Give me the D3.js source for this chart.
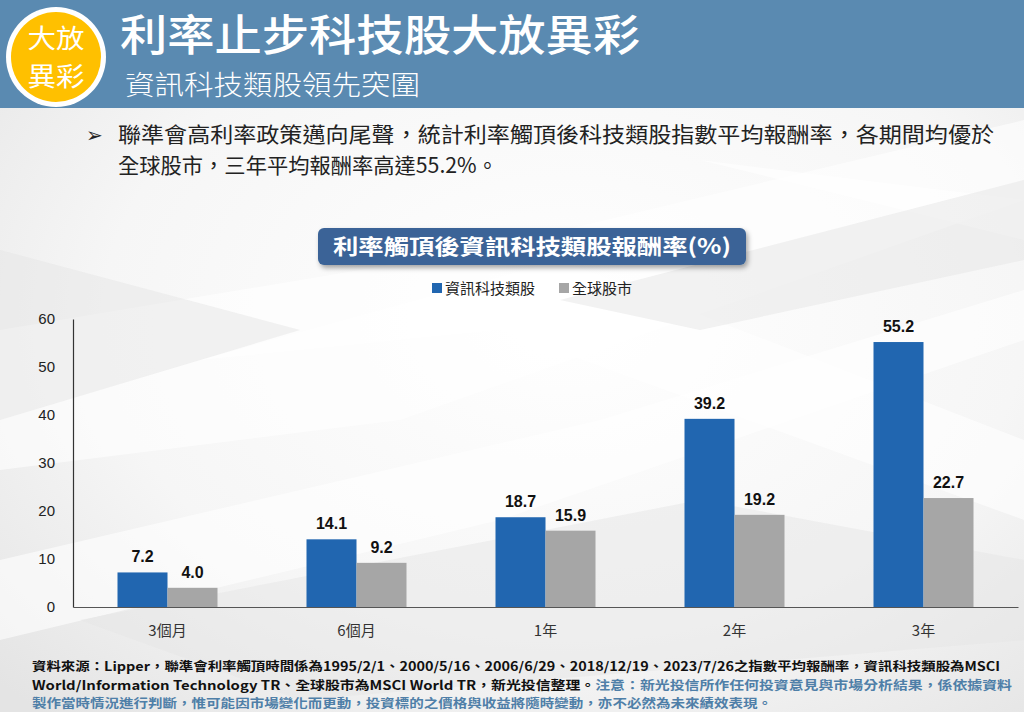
<!DOCTYPE html>
<html><head><meta charset="utf-8">
<script src="https://cdn.jsdelivr.net/npm/d3@7"></script>
<style>
html,body{margin:0;padding:0;background:#fff;}
svg{display:block;}
</style></head>
<body>
<svg id="c" width="1024" height="712"></svg>
<script>
const categories = ["3個月","6個月","1年","2年","3年"];
const seriesNames = ["資訊科技類股","全球股市"];
const itValues = [7.2, 14.1, 18.7, 39.2, 55.2];
const globalValues = [4.0, 9.2, 15.9, 19.2, 22.7];
const yTicks = [0,10,20,30,40,50,60];
const colors = ["#2166b0","#a6a6a6"];

const CJK = "'Noto Sans CJK TC','Noto Sans CJK SC',sans-serif";
const LAT = "'Liberation Sans',Arial,sans-serif";
const svg = d3.select("#c");
const defs = svg.append("defs");

// background
const bg = defs.append("radialGradient").attr("id","bg").attr("cx","55%").attr("cy","45%").attr("r","75%");
bg.append("stop").attr("offset","0%").attr("stop-color","#ffffff");
bg.append("stop").attr("offset","60%").attr("stop-color","#f6f6f6");
bg.append("stop").attr("offset","100%").attr("stop-color","#e4e4e4");
svg.append("rect").attr("width",1024).attr("height",712).attr("fill","url(#bg)");
const shapes = [
  [[0,330],[480,250],[1024,120],[1024,200],[400,420],[0,470]],
  [[200,360],[560,260],[1024,440],[1024,520],[500,330]],
  [[0,560],[600,420],[1024,290],[1024,340],[500,520],[0,640]],
  [[700,160],[1024,240],[1024,200]]
];
svg.append("g").selectAll("path").data(shapes).join("path")
  .attr("d",d=>"M"+d.join("L")+"Z").attr("fill","#ffffff").attr("opacity",0.6);
const shapes2 = [
  [[0,250],[300,330],[0,420]],
  [[80,620],[700,500],[1024,560],[1024,640],[300,700]],
  [[560,300],[1024,180],[1024,260],[700,330]]
];
svg.append("g").selectAll("path").data(shapes2).join("path")
  .attr("d",d=>"M"+d.join("L")+"Z").attr("fill","#e6e6e6").attr("opacity",0.5);

// header
svg.append("rect").attr("x",0).attr("y",0).attr("width",1024).attr("height",108).attr("fill","#5a8ab1");
svg.append("circle").attr("cx",56).attr("cy",57).attr("r",50).attr("fill","#ffffff");
svg.append("circle").attr("cx",56).attr("cy",57).attr("r",45).attr("fill","#ffc000");
svg.append("text").attr("x",56).attr("y",48).attr("text-anchor","middle").attr("fill","#fff")
  .attr("font-family",CJK).attr("font-size",26).attr("textLength",57).attr("lengthAdjust","spacingAndGlyphs").text("大放");
svg.append("text").attr("x",56).attr("y",86).attr("text-anchor","middle").attr("fill","#fff")
  .attr("font-family",CJK).attr("font-size",26).attr("textLength",57).attr("lengthAdjust","spacingAndGlyphs").text("異彩");
svg.append("text").attr("x",120).attr("y",51).attr("fill","#fff").attr("font-family",CJK)
  .attr("font-size",43).attr("font-weight",500).attr("textLength",520).attr("lengthAdjust","spacingAndGlyphs")
  .text("利率止步科技股大放異彩");
svg.append("text").attr("x",125).attr("y",95).attr("fill","#fff").attr("font-family",CJK)
  .attr("font-size",27).attr("font-weight",300).attr("textLength",295).attr("lengthAdjust","spacingAndGlyphs")
  .text("資訊科技類股領先突圍");

// bullet text
svg.append("text").attr("x",86).attr("y",142).attr("fill","#222").attr("font-family","'DejaVu Sans',sans-serif")
  .attr("font-size",20).text("➢");
svg.append("text").attr("x",118).attr("y",142).attr("fill","#222").attr("font-family",CJK)
  .attr("font-size",21).attr("textLength",876).attr("lengthAdjust","spacingAndGlyphs")
  .text("聯準會高利率政策邁向尾聲，統計利率觸頂後科技類股指數平均報酬率，各期間均優於");
svg.append("text").attr("x",118).attr("y",173).attr("fill","#222").attr("font-family",CJK)
  .attr("font-size",21).attr("textLength",380).attr("lengthAdjust","spacingAndGlyphs")
  .text("全球股市，三年平均報酬率高達55.2%。");

// chart title box
const sh = defs.append("filter").attr("id","sh").attr("x","-10%").attr("y","-30%").attr("width","120%").attr("height","170%");
sh.append("feDropShadow").attr("dx",2).attr("dy",3).attr("stdDeviation",2.5).attr("flood-color","#000").attr("flood-opacity",0.35);
svg.append("rect").attr("x",318).attr("y",228).attr("width",428).attr("height",37).attr("rx",6)
  .attr("fill","#3a6497").attr("filter","url(#sh)");
svg.append("text").attr("x",532).attr("y",254).attr("text-anchor","middle").attr("fill","#fff")
  .attr("font-family",CJK).attr("font-size",21).attr("font-weight",700)
  .attr("textLength",398).attr("lengthAdjust","spacingAndGlyphs")
  .text("利率觸頂後資訊科技類股報酬率(%)");

// legend
const legX = [432, 559];
seriesNames.forEach((n,i)=>{
  svg.append("rect").attr("x",legX[i]).attr("y",283).attr("width",10).attr("height",10).attr("fill",colors[i]);
  svg.append("text").attr("x",legX[i]+13).attr("y",294).attr("fill","#222").attr("font-family",CJK)
    .attr("font-size",15).text(n);
});

// plot
const x0 = d3.scaleBand().domain(categories).range([73,1018]).padding(0);
const x1 = d3.scaleBand().domain(seriesNames).range([0,x0.bandwidth()]).paddingInner(0).paddingOuter(0.89);
const y = d3.scaleLinear().domain([0,60]).range([607,319]);

const data = categories.map((c,i)=>({cat:c, vals:[itValues[i], globalValues[i]]}));
const g = svg.append("g");
const grp = g.selectAll("g.grp").data(data).join("g").attr("transform",d=>`translate(${x0(d.cat)},0)`);
grp.selectAll("rect").data(d=>d.vals.map((v,i)=>({s:seriesNames[i],v,i}))).join("rect")
  .attr("x",d=>x1(d.s)).attr("width",x1.bandwidth())
  .attr("y",d=>y(d.v)).attr("height",d=>y(0)-y(d.v)).attr("fill",d=>colors[d.i]);
grp.selectAll("text.lab").data(d=>d.vals.map((v,i)=>({s:seriesNames[i],v,i}))).join("text")
  .attr("class","lab").attr("x",d=>x1(d.s)+x1.bandwidth()/2).attr("y",d=>y(d.v)-10)
  .attr("text-anchor","middle").attr("font-family",LAT).attr("font-weight",700).attr("font-size",16)
  .attr("fill","#111").text(d=>d.v.toFixed(1));

// axes
const yAxis = d3.axisLeft(y).tickValues(yTicks).tickSize(0).tickPadding(18);
const ya = svg.append("g").attr("transform","translate(73,0)").call(yAxis);
ya.select(".domain").attr("stroke","#333").attr("stroke-width",1.2);
ya.selectAll("text").attr("font-family",LAT).attr("font-size",15).attr("fill","#222");

const xAxis = d3.axisBottom(x0).tickSize(0).tickPadding(18);
const xa = svg.append("g").attr("transform","translate(0,607)").call(xAxis);
xa.select(".domain").attr("stroke","#555").attr("stroke-width",1.2);
xa.selectAll("text").attr("font-family",CJK).attr("font-size",15).attr("fill","#333");

// footer
const ft = svg.append("g").attr("font-family",CJK).attr("font-size",12.5).attr("font-weight",700);
ft.append("text").attr("x",32).attr("y",671).attr("fill","#111")
  .attr("textLength",968).attr("lengthAdjust","spacingAndGlyphs")
  .text("資料來源：Lipper，聯準會利率觸頂時間係為1995/2/1、2000/5/16、2006/6/29、2018/12/19、2023/7/26之指數平均報酬率，資訊科技類股為MSCI");
const l2 = ft.append("text").attr("x",32).attr("y",690);
l2.append("tspan").attr("fill","#111").text("World/Information Technology TR、全球股市為MSCI World TR，新光投信整理。");
l2.append("tspan").attr("fill","#4f7fa8").text("注意：新光投信所作任何投資意見與市場分析結果，係依據資料");
l2.attr("textLength",980).attr("lengthAdjust","spacingAndGlyphs");
ft.append("text").attr("x",32).attr("y",708).attr("fill","#4f7fa8")
  .attr("textLength",740).attr("lengthAdjust","spacingAndGlyphs")
  .text("製作當時情況進行判斷，惟可能因市場變化而更動，投資標的之價格與收益將隨時變動，亦不必然為未來績效表現。");
</script>
</body></html>
